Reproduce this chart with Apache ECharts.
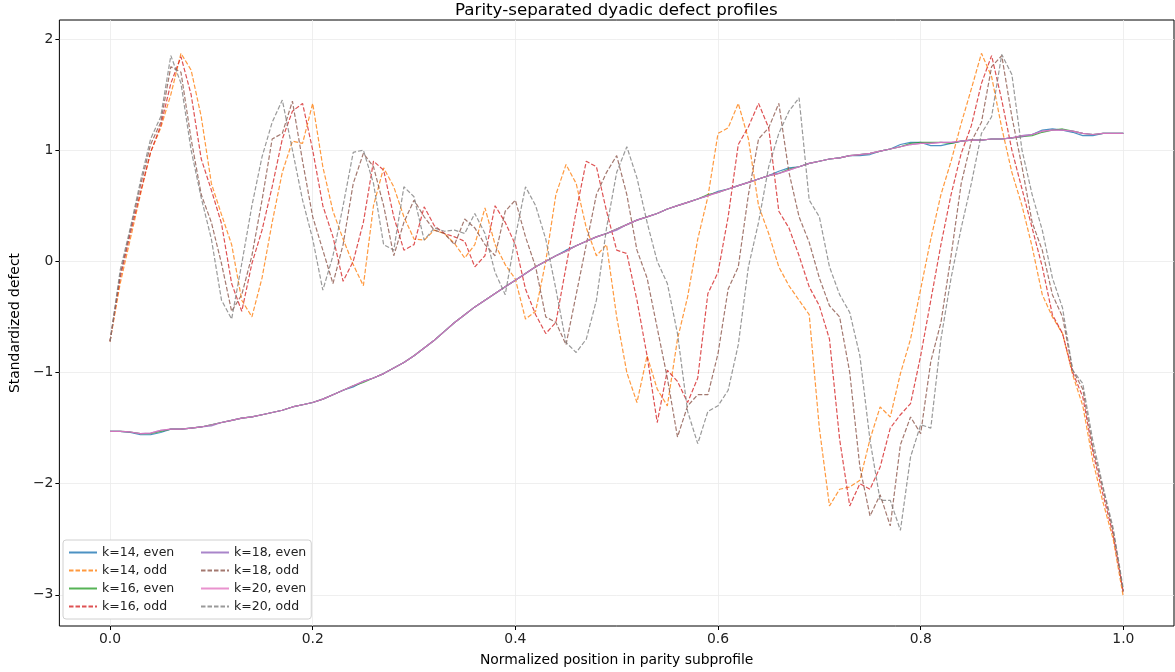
<!DOCTYPE html>
<html>
<head>
<meta charset="utf-8">
<script src="https://cdn.jsdelivr.net/npm/echarts@6/dist/echarts.min.js"></script>
<style>
  html, body { margin: 0; padding: 0; background: #fff; }
  #chart { width: 1175px; height: 672px; }
</style>
</head>
<body>
<div id="chart"></div>
<script>
// sample positions along the normalized subprofile
var xs = [0,0.01,0.02,0.03,0.04,0.05,0.06,0.07,0.08,0.09,
  0.1,0.11,0.12,0.13,0.14,0.15,0.16,0.17,0.18,0.19,
  0.2,0.21,0.22,0.23,0.24,0.25,0.26,0.27,0.28,0.29,
  0.3,0.31,0.32,0.33,0.34,0.35,0.36,0.37,0.38,0.39,
  0.4,0.41,0.42,0.43,0.44,0.45,0.46,0.47,0.48,0.49,
  0.5,0.51,0.52,0.53,0.54,0.55,0.56,0.57,0.58,0.59,
  0.6,0.61,0.62,0.63,0.64,0.65,0.66,0.67,0.68,0.69,
  0.7,0.71,0.72,0.73,0.74,0.75,0.76,0.77,0.78,0.79,
  0.8,0.81,0.82,0.83,0.84,0.85,0.86,0.87,0.88,0.89,
  0.9,0.91,0.92,0.93,0.94,0.95,0.96,0.97,0.98,0.99,1.0];

var xTicks = [0, 0.2, 0.4, 0.6, 0.8, 1.0];
var yTicks = [-3, -2, -1, 0, 1, 2];

// even parity (smooth)
var even14 = [-1.53,-1.53,-1.54,-1.56,-1.56,-1.54,-1.51,-1.51,-1.50,-1.49,
  -1.47,-1.45,-1.43,-1.41,-1.40,-1.38,-1.36,-1.34,-1.31,-1.29,
  -1.27,-1.24,-1.20,-1.16,-1.13,-1.08,-1.05,-1.01,-0.96,-0.91,
  -0.85,-0.78,-0.71,-0.63,-0.55,-0.48,-0.41,-0.35,-0.29,-0.23,
  -0.17,-0.11,-0.05,0.00,0.05,0.10,0.14,0.18,0.22,0.25,
  0.29,0.33,0.37,0.40,0.43,0.47,0.50,0.53,0.56,0.59,
  0.63,0.65,0.68,0.71,0.74,0.77,0.81,0.84,0.85,0.88,
  0.90,0.92,0.93,0.95,0.95,0.96,0.99,1.01,1.05,1.07,
  1.07,1.04,1.04,1.06,1.08,1.09,1.09,1.10,1.10,1.11,
  1.13,1.14,1.18,1.19,1.18,1.16,1.13,1.13,1.15,1.15,1.15];
var even16 = [-1.53,-1.53,-1.535,-1.55,-1.55,-1.53,-1.51,-1.51,-1.50,-1.49,
  -1.47,-1.45,-1.43,-1.41,-1.40,-1.38,-1.36,-1.34,-1.31,-1.29,
  -1.27,-1.24,-1.20,-1.16,-1.12,-1.09,-1.05,-1.01,-0.96,-0.91,
  -0.85,-0.78,-0.71,-0.63,-0.55,-0.48,-0.41,-0.35,-0.29,-0.23,
  -0.17,-0.11,-0.05,0.00,0.05,0.09,0.14,0.18,0.22,0.25,
  0.29,0.33,0.37,0.40,0.43,0.47,0.50,0.53,0.56,0.60,
  0.62,0.65,0.68,0.71,0.74,0.77,0.79,0.83,0.85,0.88,
  0.90,0.92,0.93,0.95,0.96,0.97,0.99,1.01,1.03,1.06,
  1.07,1.07,1.07,1.06,1.08,1.09,1.09,1.10,1.10,1.11,
  1.12,1.13,1.16,1.18,1.19,1.17,1.15,1.14,1.15,1.15,1.15];
var even18 = [-1.53,-1.53,-1.535,-1.55,-1.545,-1.52,-1.51,-1.51,-1.50,-1.49,
  -1.48,-1.45,-1.43,-1.41,-1.40,-1.38,-1.36,-1.34,-1.31,-1.29,
  -1.27,-1.24,-1.20,-1.16,-1.12,-1.08,-1.05,-1.01,-0.96,-0.91,
  -0.85,-0.78,-0.71,-0.63,-0.55,-0.48,-0.41,-0.35,-0.29,-0.23,
  -0.17,-0.11,-0.05,0.00,0.05,0.09,0.14,0.18,0.22,0.25,
  0.28,0.33,0.37,0.40,0.43,0.47,0.50,0.53,0.56,0.59,
  0.62,0.65,0.68,0.71,0.74,0.77,0.79,0.82,0.85,0.88,
  0.90,0.92,0.93,0.95,0.96,0.97,0.99,1.01,1.03,1.05,
  1.06,1.06,1.07,1.07,1.08,1.09,1.09,1.10,1.10,1.11,
  1.12,1.14,1.17,1.18,1.18,1.17,1.15,1.14,1.15,1.15,1.15];
var even20 = [-1.53,-1.53,-1.535,-1.55,-1.545,-1.52,-1.51,-1.51,-1.50,-1.49,
  -1.47,-1.45,-1.43,-1.41,-1.40,-1.38,-1.36,-1.34,-1.31,-1.29,
  -1.27,-1.24,-1.20,-1.16,-1.12,-1.08,-1.05,-1.01,-0.96,-0.91,
  -0.85,-0.78,-0.71,-0.63,-0.55,-0.48,-0.41,-0.35,-0.29,-0.23,
  -0.17,-0.11,-0.05,0.00,0.05,0.09,0.14,0.18,0.22,0.25,
  0.29,0.33,0.37,0.40,0.43,0.47,0.50,0.53,0.56,0.59,
  0.62,0.65,0.68,0.71,0.74,0.77,0.79,0.82,0.85,0.88,
  0.90,0.92,0.93,0.95,0.96,0.97,0.99,1.01,1.03,1.05,
  1.06,1.06,1.07,1.07,1.08,1.09,1.09,1.10,1.10,1.11,
  1.13,1.14,1.17,1.18,1.18,1.17,1.15,1.14,1.15,1.15,1.15];

// odd parity (oscillating, dashed)
var odd14 = [-0.72,-0.2,0.2,0.6,0.98,1.2,1.5,1.87,1.72,1.3,
  0.7,0.42,0.15,-0.35,-0.5,-0.15,0.35,0.8,1.08,1.06,
  1.42,0.85,0.45,0.2,-0.03,-0.22,0.5,0.84,0.67,0.4,
  0.2,0.19,0.28,0.25,0.16,0.03,0.15,0.48,0.15,-0.03,
  -0.16,-0.52,-0.45,0.0,0.6,0.87,0.7,0.3,0.05,0.15,
  -0.5,-1.0,-1.27,-0.85,-1.15,-1.3,-0.7,-0.32,0.2,0.58,
  1.15,1.2,1.42,1.1,0.5,0.25,-0.05,-0.22,-0.35,-0.48,
  -1.5,-2.2,-2.05,-2.03,-1.97,-1.6,-1.31,-1.4,-1.01,-0.7,
  -0.25,0.2,0.6,0.9,1.24,1.55,1.87,1.66,1.2,0.8,
  0.5,0.13,-0.3,-0.5,-0.65,-1.02,-1.3,-1.8,-2.17,-2.5,-3.02];
var odd16 = [-0.72,-0.15,0.25,0.62,0.98,1.22,1.6,1.84,1.5,0.92,
  0.64,0.34,-0.2,-0.45,-0.02,0.28,0.67,1.1,1.35,1.42,
  1.0,0.5,0.22,-0.18,0.0,0.35,0.9,0.82,0.4,0.1,
  0.15,0.49,0.32,0.25,0.22,0.18,-0.05,0.05,0.5,0.35,
  0.15,-0.25,-0.48,-0.65,-0.55,-0.05,0.45,0.9,0.85,0.45,
  0.1,0.07,-0.35,-0.85,-1.45,-0.98,-1.08,-1.27,-1.05,-0.29,
  -0.1,0.4,1.05,1.21,1.42,1.2,0.45,0.3,0.05,-0.23,
  -0.4,-0.7,-1.6,-2.2,-2.0,-2.05,-1.85,-1.5,-1.38,-1.28,
  -0.85,-0.35,0.15,0.6,0.97,1.22,1.6,1.85,1.45,1.0,
  0.65,0.3,-0.05,-0.48,-0.65,-1.0,-1.22,-1.72,-2.1,-2.46,-2.98];
var odd18 = [-0.72,-0.12,0.28,0.68,1.05,1.25,1.75,1.7,1.1,0.6,
  0.35,-0.02,-0.45,-0.3,0.05,0.55,1.1,1.15,1.44,0.9,
  0.4,0.1,-0.2,0.15,0.7,0.97,0.85,0.5,0.05,0.35,
  0.55,0.4,0.28,0.25,0.15,0.38,0.3,0.15,0.05,0.45,
  0.55,0.22,-0.05,-0.5,-0.55,-0.75,-0.3,0.15,0.6,0.8,
  0.95,0.6,0.1,-0.15,-0.6,-1.05,-1.58,-1.3,-1.2,-1.2,
  -0.83,-0.25,-0.05,0.6,1.1,1.2,1.42,0.8,0.4,0.17,
  -0.15,-0.4,-0.5,-1.0,-1.85,-2.29,-2.1,-2.38,-1.65,-1.4,
  -1.55,-0.9,-0.55,0.05,0.7,1.08,1.25,1.75,1.85,1.3,
  0.85,0.35,0.1,-0.3,-0.5,-0.98,-1.15,-1.68,-2.05,-2.43,-2.97];
var odd20 = [-0.72,-0.08,0.3,0.72,1.1,1.3,1.85,1.6,1.0,0.57,
  0.2,-0.35,-0.52,-0.02,0.5,0.94,1.25,1.45,1.0,0.55,
  0.2,-0.26,0.05,0.5,0.98,1.0,0.7,0.15,0.1,0.67,
  0.58,0.19,0.3,0.27,0.28,0.25,0.43,0.25,-0.1,-0.3,
  0.22,0.67,0.5,0.2,-0.25,-0.73,-0.82,-0.7,-0.35,0.3,
  0.8,1.03,0.75,0.35,0.0,-0.2,-0.65,-1.35,-1.64,-1.35,
  -1.3,-1.16,-0.75,-0.05,0.35,0.85,1.15,1.35,1.47,0.55,
  0.4,-0.05,-0.3,-0.46,-0.85,-1.61,-2.15,-2.15,-2.42,-1.76,
  -1.47,-1.5,-0.7,-0.15,0.3,0.7,1.15,1.3,1.86,1.68,
  1.0,0.6,0.28,-0.15,-0.42,-0.98,-1.1,-1.62,-2.03,-2.4,-2.95];

var FONT = 'DejaVu Sans';

function makeLine(name, ys, color, dashed) {
  return {
    name: name,
    type: 'line',
    data: xs.map(function (x, i) { return [x, ys[i]]; }),
    symbol: 'none',
    showSymbol: false,
    lineStyle: { color: color, width: 1.2, opacity: 0.8, type: dashed ? [4.5, 2] : 'solid' },
    itemStyle: { color: color }
  };
}

var seriesList = [
  makeLine('k=14, even', even14, '#1f77b4', false),
  makeLine('k=14, odd', odd14, '#ff7f0e', true),
  makeLine('k=16, even', even16, '#2ca02c', false),
  makeLine('k=16, odd', odd16, '#d62728', true),
  makeLine('k=18, even', even18, '#9467bd', false),
  makeLine('k=18, odd', odd18, '#8c564b', true),
  makeLine('k=20, even', even20, '#e377c2', false),
  makeLine('k=20, odd', odd20, '#7f7f7f', true)
];
var names = seriesList.map(function (s) { return s.name; });

var legendText = { fontFamily: FONT, fontSize: 12.5, color: '#222' };

var chart = echarts.init(document.getElementById('chart'), null, { renderer: 'canvas' });

var option = {
  animation: false,
  backgroundColor: '#fff',
  textStyle: { fontFamily: FONT },
  title: {
    text: 'Parity-separated dyadic defect profiles',
    left: 450,
    top: -3,
    textStyle: { fontFamily: FONT, fontSize: 16.7, fontWeight: 'normal', color: '#000' }
  },
  grid: {
    left: 58, right: 1, top: 20, bottom: 46,
    show: true, borderColor: '#000', borderWidth: 1, backgroundColor: 'transparent'
  },
  legend: [{
    data: names.slice(0, 4),
    orient: 'vertical',
    left: 63, top: 540,
    padding: [6, 137, 6, 5],
    itemWidth: 28, itemHeight: 12, itemGap: 5,
    itemStyle: { opacity: 0 },
    backgroundColor: '#fff',
    borderColor: '#d0d0d0', borderWidth: 1, borderRadius: 3,
    textStyle: legendText,
    z: 10
  }, {
    data: names.slice(4),
    orient: 'vertical',
    left: 200, top: 546,
    padding: 0,
    itemWidth: 28, itemHeight: 12, itemGap: 5,
    itemStyle: { opacity: 0 },
    textStyle: legendText,
    z: 11
  }],
  xAxis: {
    type: 'value',
    min: -0.05, max: 1.05,
    name: 'Normalized position in parity subprofile',
    nameLocation: 'middle', nameGap: 27,
    nameTextStyle: { fontFamily: FONT, fontSize: 13.9, color: '#000' },
    axisLine: { show: false, onZero: false },
    axisTick: { show: true, length: 4, lineStyle: { color: '#000' }, customValues: xTicks },
    axisLabel: {
      customValues: xTicks, fontFamily: FONT, fontSize: 13.9, color: '#222', margin: 6,
      formatter: function (v) { return v.toFixed(1); }
    },
    splitLine: { show: true, lineStyle: { color: '#ebebeb', width: 0.8 } }
  },
  yAxis: {
    type: 'value',
    min: -3.28, max: 2.17,
    name: 'Standardized defect',
    nameLocation: 'middle', nameGap: 37,
    nameTextStyle: { fontFamily: FONT, fontSize: 13.9, color: '#000' },
    axisLine: { show: false, onZero: false },
    axisTick: { show: true, length: 4, lineStyle: { color: '#000' }, customValues: yTicks },
    axisLabel: {
      customValues: yTicks, fontFamily: FONT, fontSize: 13.9, color: '#222', margin: 6,
      formatter: function (v) { return v < 0 ? '\u2212' + Math.abs(v) : String(v); }
    },
    splitLine: { show: true, lineStyle: { color: '#ebebeb', width: 0.8 } }
  },
  series: seriesList
};

chart.setOption(option);
</script>
</body>
</html>
